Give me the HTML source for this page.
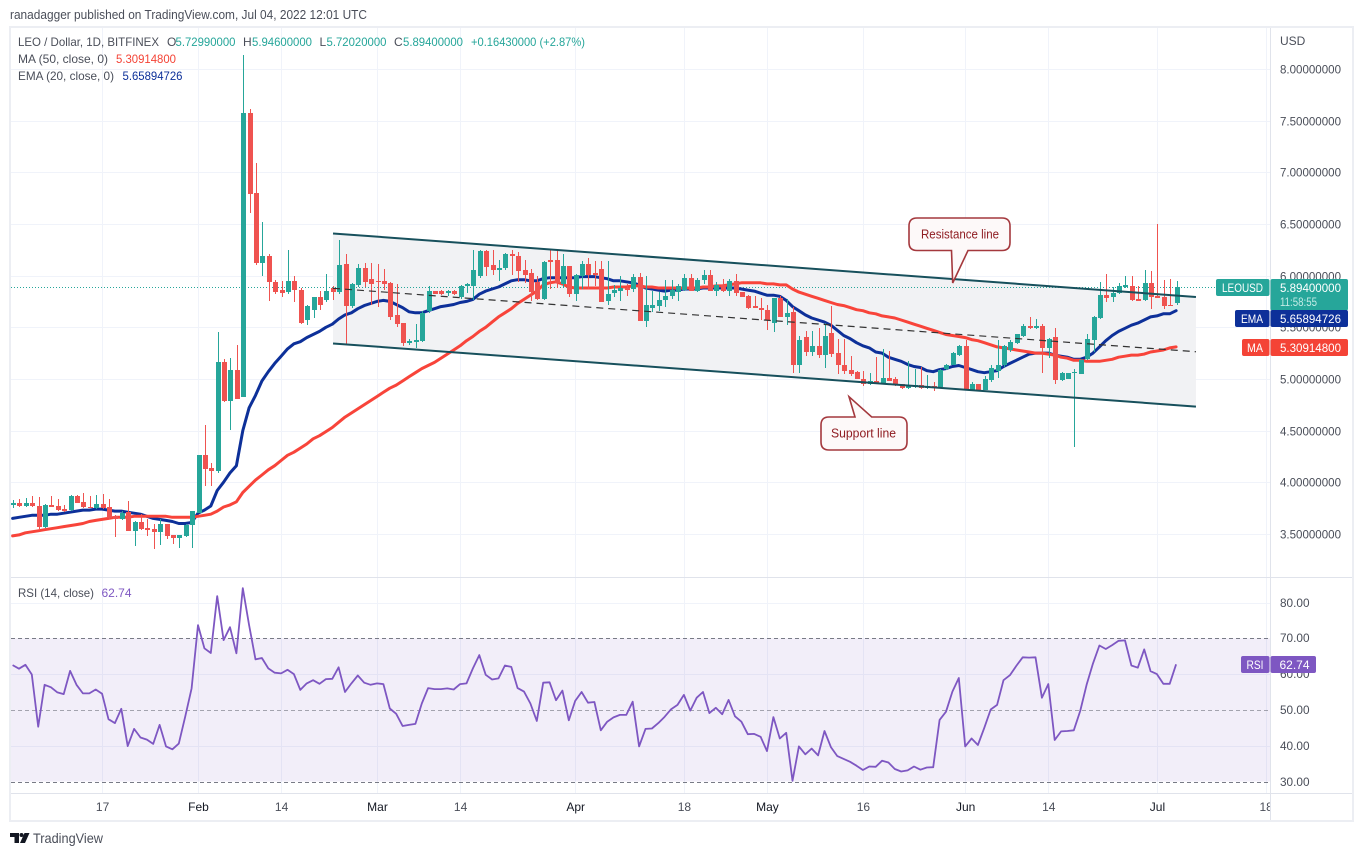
<!DOCTYPE html>
<html lang="en">
<head>
<meta charset="utf-8">
<title>LEO / Dollar chart</title>
<style>
html,body{margin:0;padding:0;background:#fff;width:1362px;height:856px;overflow:hidden}
svg{display:block}
text{font-family:"Liberation Sans",sans-serif;font-size:12px;fill:#4a4e59}
</style>
</head>
<body>
<svg id="chart" xmlns="http://www.w3.org/2000/svg" width="1362" height="856" viewBox="0 0 1362 856">
  <defs>
    <clipPath id="time-clip"><rect x="11" y="794" width="1259" height="26"/></clipPath>
    <clipPath id="plot-clip"><rect x="11" y="28" width="1259" height="549"/></clipPath>
    <clipPath id="rsi-clip"><rect x="11" y="578" width="1259" height="215"/></clipPath>
  </defs>

  <text x="10" y="19" textLength="357" lengthAdjust="spacingAndGlyphs" style="font-size:13px">ranadagger published on TradingView.com, Jul 04, 2022 12:01 UTC</text>

  <rect x="10" y="27" width="1343" height="794" fill="#fff" stroke="#eceef3" stroke-width="2"/>

  <g id="grid"></g>
  <g id="rsi-pane" clip-path="url(#rsi-clip)"></g>
  <g id="channel-fill"></g>
  <line id="last-price-line" x1="11" x2="1270" stroke="#26a69a" stroke-width="1" stroke-dasharray="1 2"/>
  <g id="indicators" clip-path="url(#plot-clip)"></g>
  <g id="candles" clip-path="url(#plot-clip)" shape-rendering="crispEdges"></g>
  <g id="channel-lines"></g>

  <g>
    <path d="M917,218H1002Q1010,218 1010,226V242.5Q1010,250.5 1002,250.5H968L952.7,283L951.5,250.5H917Q909,250.5 909,242.5V226Q909,218 917,218Z" fill="#fdf9f9" stroke="#a4383d" stroke-width="1.6"/>
    <text x="921" y="238.5" textLength="78" lengthAdjust="spacingAndGlyphs" style="fill:#8f1d22;font-size:13px">Resistance line</text>
  </g>
  <g>
    <path d="M829,417H855L849,396.7L871.7,417H899Q907,417 907,425V442Q907,450 899,450H829Q821,450 821,442V425Q821,417 829,417Z" fill="#fdf9f9" stroke="#a4383d" stroke-width="1.6"/>
    <text x="831" y="437.5" textLength="65" lengthAdjust="spacingAndGlyphs" style="fill:#8f1d22;font-size:13px">Support line</text>
  </g>

  <g shape-rendering="crispEdges">
    <rect x="11" y="577" width="1341" height="1" fill="#e0e3eb"/>
    <rect x="11" y="793" width="1341" height="1" fill="#e0e3eb"/>
    <rect x="1270" y="28" width="1" height="792" fill="#e0e3eb"/>
  </g>

  <g id="price-axis"></g>
  <g id="rsi-axis"></g>
  <g id="time-axis" clip-path="url(#time-clip)"></g>
  <text x="1280" y="45">USD</text>

  <g>
    <text x="18" y="46" textLength="141" lengthAdjust="spacingAndGlyphs">LEO / Dollar, 1D, BITFINEX</text>
    <text x="167" y="46">O</text>
    <text x="175.5" y="46" textLength="60" lengthAdjust="spacingAndGlyphs" style="fill:#26a69a">5.72990000</text>
    <text x="243" y="46">H</text>
    <text x="252" y="46" textLength="60" lengthAdjust="spacingAndGlyphs" style="fill:#26a69a">5.94600000</text>
    <text x="319.5" y="46">L</text>
    <text x="326.5" y="46" textLength="60" lengthAdjust="spacingAndGlyphs" style="fill:#26a69a">5.72020000</text>
    <text x="394" y="46">C</text>
    <text x="403" y="46" textLength="60" lengthAdjust="spacingAndGlyphs" style="fill:#26a69a">5.89400000</text>
    <text x="471" y="46" textLength="114" lengthAdjust="spacingAndGlyphs" style="fill:#26a69a">+0.16430000 (+2.87%)</text>
    <text x="18" y="63" textLength="90" lengthAdjust="spacingAndGlyphs">MA (50, close, 0)</text>
    <text x="116" y="63" textLength="60" lengthAdjust="spacingAndGlyphs" style="fill:#f44336">5.30914800</text>
    <text x="18" y="80" textLength="96" lengthAdjust="spacingAndGlyphs">EMA (20, close, 0)</text>
    <text x="122.5" y="80" textLength="60" lengthAdjust="spacingAndGlyphs" style="fill:#0d3099">5.65894726</text>
    <text x="18" y="597" textLength="76" lengthAdjust="spacingAndGlyphs">RSI (14, close)</text>
    <text x="101.5" y="597" textLength="30" lengthAdjust="spacingAndGlyphs" style="fill:#7e57c2">62.74</text>
  </g>

  <g>
    <rect x="1216" y="279" width="53.5" height="17" rx="2" fill="#26a69a"/>
    <text x="1222" y="292" textLength="41" lengthAdjust="spacingAndGlyphs" style="fill:#fff">LEOUSD</text>
    <rect x="1270.5" y="279" width="77.5" height="31.5" rx="2" fill="#26a69a"/>
    <text x="1280" y="292" textLength="61" lengthAdjust="spacingAndGlyphs" style="fill:#fff">5.89400000</text>
    <text x="1280" y="306" textLength="37" lengthAdjust="spacingAndGlyphs" style="fill:#c4ebe6">11:58:55</text>

    <rect x="1235" y="310" width="34.5" height="17" rx="2" fill="#0d3099"/>
    <text x="1241" y="323" textLength="22" lengthAdjust="spacingAndGlyphs" style="fill:#fff">EMA</text>
    <rect x="1270.5" y="310" width="77.5" height="17" rx="2" fill="#0d3099"/>
    <text x="1280" y="323" textLength="61" lengthAdjust="spacingAndGlyphs" style="fill:#fff">5.65894726</text>

    <rect x="1242" y="339" width="27.5" height="17" rx="2" fill="#f44336"/>
    <text x="1247" y="352" textLength="16" lengthAdjust="spacingAndGlyphs" style="fill:#fff">MA</text>
    <rect x="1270.5" y="339" width="77.5" height="17" rx="2" fill="#f44336"/>
    <text x="1280" y="352" textLength="61" lengthAdjust="spacingAndGlyphs" style="fill:#fff">5.30914800</text>

    <rect x="1241" y="656" width="28.5" height="17" rx="2" fill="#7e57c2"/>
    <text x="1246.5" y="669" textLength="17" lengthAdjust="spacingAndGlyphs" style="fill:#fff">RSI</text>
    <rect x="1270.5" y="656" width="45.5" height="17" rx="2" fill="#7e57c2"/>
    <text x="1279.5" y="669" textLength="30" lengthAdjust="spacingAndGlyphs" style="fill:#fff">62.74</text>
  </g>

  <g>
    <path d="M10,833H19V843H14.5V837H10Z" fill="#131722"/>
    <circle cx="21.5" cy="835" r="2" fill="#131722"/>
    <path d="M24.5,833H29.5L25,843H20Z" fill="#131722"/>
    <text x="33" y="843" textLength="70" lengthAdjust="spacingAndGlyphs" style="font-size:14px">TradingView</text>
  </g>
</svg>

<script>
// Trading days are measured from 1 Feb; first bar is 3 Jan (-29), last is 4 Jul (153).
const firstDay = -29;

const opens = [
3.78,3.80,3.77,3.80,3.77,3.57,3.78,3.77,3.74,3.73,
3.87,3.81,3.76,3.75,3.79,3.76,3.67,3.64,3.71,3.53,
3.61,3.56,3.55,3.52,3.60,3.49,3.46,3.48,3.59,3.70,
4.26,4.14,4.11,5.16,4.79,5.09,4.82,7.57,6.80,6.12,
6.19,5.94,5.86,5.84,5.95,5.86,5.57,5.67,5.79,5.76,
5.88,5.84,6.11,5.71,5.91,6.07,5.97,5.95,5.95,5.93,
5.62,5.54,5.35,5.36,5.37,5.66,5.85,5.85,5.83,5.85,
5.79,5.90,5.90,6.00,6.24,6.10,6.05,6.07,6.21,6.19,
6.05,6.03,5.94,5.77,6.15,6.15,5.92,6.09,5.82,6.00,
6.11,6.03,6.06,5.75,5.83,5.85,5.88,5.87,5.99,5.56,
5.69,5.71,5.76,5.80,5.84,5.86,5.98,5.85,5.96,6.01,
5.85,5.91,5.85,5.95,5.84,5.80,5.71,5.69,5.67,5.54,
5.78,5.60,5.65,5.13,5.41,5.26,5.32,5.23,5.44,5.25,
5.13,5.09,5.07,5.00,4.95,4.98,4.96,5.01,5.00,4.95,
4.91,4.92,4.94,4.91,4.93,4.92,5.10,5.13,5.23,5.32,
4.89,4.95,4.89,4.99,5.08,5.13,5.28,5.35,5.42,5.51,
5.49,5.51,5.30,5.41,4.99,5.00,5.06,5.05,5.19,5.38,
5.59,5.81,5.79,5.83,5.89,5.90,5.77,5.76,5.93,5.80,
5.79,5.72,5.73];

const highs = [
3.83,3.84,3.85,3.87,3.86,3.79,3.87,3.84,3.78,3.88,
3.88,3.90,3.87,3.88,3.89,3.84,3.68,3.72,3.82,3.62,
3.69,3.64,3.60,3.64,3.60,3.49,3.49,3.60,3.72,4.26,
4.55,4.19,5.45,5.19,5.20,5.33,8.14,7.61,7.09,6.52,
6.21,5.96,5.95,6.25,6.00,5.88,5.72,5.79,5.85,6.02,
5.90,6.34,6.21,5.93,6.11,6.12,6.12,6.11,6.06,5.94,
5.92,5.54,5.39,5.53,5.66,5.90,5.85,5.86,5.86,5.86,
5.91,5.93,6.25,6.25,6.25,6.25,6.15,6.22,6.25,6.23,
6.15,6.06,6.00,6.14,6.25,6.25,6.21,6.09,6.02,6.14,
6.17,6.14,6.14,6.14,5.91,6.00,5.92,6.02,6.03,6.00,
5.85,5.84,5.96,5.96,5.92,6.02,6.02,5.98,6.05,6.05,
5.94,5.97,5.97,6.02,5.84,5.81,5.80,5.78,5.72,5.78,
5.80,5.77,5.70,5.42,5.46,5.46,5.49,5.54,5.71,5.39,
5.39,5.22,5.08,5.08,5.06,5.21,5.29,5.27,5.02,4.95,
5.17,5.10,5.12,5.04,4.97,5.10,5.14,5.26,5.33,5.38,
4.97,4.95,5.03,5.13,5.38,5.33,5.38,5.43,5.53,5.60,
5.58,5.53,5.40,5.49,5.07,5.06,5.10,5.19,5.43,5.61,
5.94,6.02,5.89,5.93,6.00,6.00,5.90,6.05,6.04,6.50,
5.96,5.97,5.95];

const lows = [
3.75,3.76,3.76,3.76,3.55,3.56,3.76,3.72,3.71,3.72,
3.80,3.75,3.75,3.74,3.74,3.64,3.47,3.63,3.53,3.38,
3.54,3.48,3.35,3.39,3.45,3.40,3.36,3.47,3.36,3.70,
3.96,3.96,4.09,4.78,4.51,4.81,4.82,6.61,6.10,6.00,
5.75,5.82,5.79,5.82,5.74,5.53,5.52,5.59,5.67,5.74,
5.76,5.82,5.33,5.69,5.89,5.89,5.72,5.70,5.86,5.57,
5.50,5.32,5.33,5.30,5.36,5.64,5.82,5.81,5.80,5.81,
5.77,5.83,5.76,5.98,6.00,6.01,5.95,6.05,6.01,5.94,
5.93,5.75,5.76,5.76,5.87,5.88,5.88,5.79,5.75,5.87,
5.87,5.90,5.74,5.72,5.79,5.75,5.80,5.84,5.56,5.50,
5.65,5.66,5.70,5.77,5.75,5.85,5.85,5.84,5.92,5.85,
5.80,5.84,5.80,5.80,5.79,5.68,5.69,5.57,5.47,5.45,
5.60,5.52,5.06,5.06,5.22,5.22,5.20,5.11,5.21,5.05,
5.05,5.03,5.00,4.93,4.94,4.95,4.95,4.98,4.93,4.90,
4.90,4.91,4.90,4.90,4.88,4.91,5.09,5.13,5.22,4.89,
4.89,4.89,4.89,4.97,5.01,5.12,5.26,5.34,5.41,5.48,
5.48,5.06,5.20,4.95,4.98,5.00,4.34,5.05,5.18,5.26,
5.58,5.74,5.74,5.82,5.88,5.75,5.75,5.75,5.68,5.78,
5.68,5.71,5.72];

const closes = [
3.80,3.77,3.80,3.77,3.57,3.78,3.76,3.73,3.72,3.87,
3.80,3.76,3.75,3.79,3.75,3.65,3.64,3.70,3.53,3.61,
3.55,3.54,3.52,3.60,3.48,3.46,3.49,3.59,3.72,4.26,
4.13,4.11,5.16,4.79,5.09,4.81,7.57,6.79,6.12,6.19,
5.94,5.84,5.83,5.95,5.86,5.54,5.71,5.79,5.72,5.85,
5.84,6.10,5.71,5.92,6.07,5.94,5.92,5.94,5.92,5.60,
5.53,5.35,5.37,5.38,5.64,5.85,5.82,5.82,5.85,5.82,
5.90,5.92,6.05,6.24,6.08,6.05,6.07,6.21,6.19,6.04,
6.01,5.84,5.77,6.13,6.13,5.93,6.09,5.82,6.01,6.11,
6.01,6.01,5.74,5.82,5.86,5.88,5.86,5.99,5.56,5.72,
5.72,5.76,5.80,5.86,5.90,5.98,5.85,5.96,6.01,5.85,
5.91,5.85,5.95,5.83,5.79,5.69,5.69,5.67,5.57,5.78,
5.60,5.64,5.13,5.38,5.26,5.32,5.23,5.42,5.24,5.13,
5.08,5.05,5.00,4.95,4.98,4.96,5.01,4.98,4.94,4.91,
4.93,4.94,4.91,4.93,4.92,5.09,5.13,5.25,5.32,4.89,
4.95,4.89,5.00,5.11,5.13,5.32,5.36,5.43,5.51,5.49,
5.51,5.30,5.39,4.99,5.06,5.06,5.07,5.18,5.39,5.60,
5.81,5.78,5.83,5.90,5.91,5.76,5.75,5.93,5.79,5.78,
5.71,5.71,5.89];

const emaValues = [
3.65,3.66,3.67,3.68,3.68,3.68,3.69,3.69,3.70,3.71,
3.72,3.73,3.73,3.74,3.74,3.73,3.72,3.72,3.71,3.70,
3.69,3.67,3.65,3.64,3.63,3.62,3.60,3.60,3.61,3.70,
3.73,3.77,3.92,4.00,4.09,4.16,4.50,4.72,4.84,4.98,
5.07,5.15,5.22,5.29,5.34,5.36,5.40,5.43,5.46,5.50,
5.53,5.58,5.62,5.64,5.68,5.71,5.73,5.75,5.76,5.75,
5.72,5.69,5.65,5.64,5.64,5.66,5.68,5.70,5.71,5.72,
5.74,5.75,5.77,5.82,5.85,5.87,5.89,5.92,5.95,5.96,
5.96,5.95,5.95,5.97,5.98,5.98,5.98,5.98,5.98,5.99,
5.99,5.99,5.98,5.97,5.95,5.95,5.94,5.93,5.91,5.88,
5.87,5.86,5.85,5.86,5.86,5.87,5.87,5.87,5.88,5.88,
5.88,5.88,5.88,5.88,5.87,5.86,5.85,5.83,5.81,5.81,
5.80,5.76,5.70,5.66,5.62,5.59,5.57,5.55,5.52,5.47,
5.42,5.39,5.35,5.32,5.30,5.26,5.25,5.21,5.19,5.17,
5.14,5.12,5.11,5.08,5.07,5.09,5.10,5.12,5.13,5.11,
5.09,5.07,5.06,5.07,5.08,5.12,5.15,5.18,5.21,5.24,
5.25,5.25,5.25,5.23,5.22,5.21,5.19,5.19,5.21,5.25,
5.31,5.37,5.42,5.46,5.49,5.52,5.54,5.57,5.60,5.61,
5.63,5.63,5.66];

const maValues = [
3.48,3.49,3.51,3.52,3.53,3.54,3.55,3.56,3.57,3.58,
3.59,3.60,3.62,3.63,3.64,3.65,3.66,3.66,3.66,3.67,
3.67,3.67,3.67,3.67,3.67,3.66,3.66,3.66,3.66,3.67,
3.68,3.69,3.72,3.76,3.78,3.81,3.90,3.96,4.02,4.07,
4.12,4.16,4.21,4.26,4.29,4.33,4.37,4.42,4.45,4.49,
4.53,4.58,4.63,4.67,4.71,4.75,4.79,4.83,4.87,4.91,
4.94,4.98,5.02,5.06,5.10,5.13,5.16,5.20,5.24,5.28,
5.32,5.37,5.41,5.46,5.50,5.55,5.60,5.64,5.68,5.73,
5.77,5.81,5.85,5.91,5.93,5.94,5.92,5.89,5.88,5.88,
5.88,5.88,5.88,5.88,5.89,5.89,5.89,5.90,5.90,5.89,
5.89,5.88,5.88,5.88,5.88,5.88,5.88,5.88,5.89,5.89,
5.90,5.90,5.91,5.92,5.93,5.93,5.93,5.93,5.92,5.92,
5.91,5.91,5.87,5.84,5.82,5.80,5.78,5.76,5.74,5.72,
5.71,5.69,5.67,5.66,5.64,5.63,5.61,5.60,5.59,5.57,
5.55,5.53,5.51,5.49,5.47,5.45,5.43,5.42,5.41,5.40,
5.38,5.37,5.35,5.33,5.31,5.30,5.29,5.28,5.27,5.26,
5.25,5.25,5.24,5.23,5.21,5.20,5.18,5.18,5.17,5.17,
5.17,5.18,5.19,5.21,5.22,5.23,5.23,5.24,5.26,5.27,
5.28,5.30,5.31];

const rsiValues = [
62.5,61.5,62.6,59.9,45.3,57,56.3,54.9,54.4,60.9,
57,54.6,54.6,55.7,54.5,47.4,46.3,50.3,39.9,44.7,
42.3,41.7,40.5,45.8,39.8,39,40.6,48.1,56,73.7,
67.2,65.9,81.8,69.5,73.1,65.8,84,73.7,64.1,64.5,
61.6,60.4,60.2,61.2,60,55.6,57.4,58.3,57.3,58.6,
58.7,61.9,55,57.4,59.6,57.6,57,57.4,57.2,50.4,
48.9,45.5,45.8,46.1,51.8,56.1,55.8,55.8,56,55.7,
57.2,57.4,61.6,65.3,59.8,58.5,58.8,62.4,62,56.1,
55.1,51.8,46.9,57.6,57.7,52.7,55.4,47.1,52.5,55,
52,52.2,44.3,46.7,47.9,48.6,48.6,52.3,39.8,44.7,
44.8,46.3,48.1,50.2,51.4,54.2,49.8,53.4,55,49.1,
50.6,48.8,52.8,48.2,46.7,43.2,43.3,42.5,38.5,48,
42,43.6,30.2,39.8,37.6,39.2,37.3,44.1,39.6,37.1,
36.3,35.5,34.4,33.2,34.2,34.1,35.8,35.3,33.5,32.8,
33.1,34.2,33.3,33.9,34,47.2,49.5,55.1,58.9,39.8,
42,40.2,45,50.1,51.4,58.3,59.7,62.3,64.7,64.6,
64.7,53.4,57.2,41.6,44,44.1,44.3,49.7,57,63,
68,67,68.1,69.3,69.4,62.4,61.8,66.9,60.8,60,
57.3,57.3,62.74];

const priceTicks = [8, 7.5, 7, 6.5, 6, 5.5, 5, 4.5, 4, 3.5];
const rsiGridTicks = [80, 60, 40];
const rsiGuideLevels = [70, 50, 30];
const rsiAxisTicks = [80, 70, 60, 50, 40, 30];
const timeTickDays = [-15, 0, 13, 28, 41, 59, 76, 89, 104, 120, 133, 150, 167];
const timeTickLabels = ['17', 'Feb', '14', 'Mar', '14', 'Apr', '18', 'May', '16', 'Jun', '14', 'Jul', '18'];
const channelDays = [21.12, 156.1];
const channelUpper = [6.408, 5.793];
const channelMiddle = [5.877, 5.263];
const channelLower = [5.343, 4.732];
const lastPrice = 5.894;

const NS = 'http://www.w3.org/2000/svg';
function xOf(day) { return 198 + 6.393 * day; }
function yOf(price) { return 69 + (8 - price) * 103.3; }
function yRsi(v) { return 638.3 + (70 - v) * 3.58; }
function make(tag, parent) {
  const el = document.createElementNS(NS, tag);
  parent.appendChild(el);
  return el;
}
function linePath(values, yFn) {
  return values.map(function (v, i) {
    return (i ? 'L' : 'M') + xOf(firstDay + i).toFixed(1) + ',' + yFn(v).toFixed(1);
  }).join('');
}

// grid
const grid = document.getElementById('grid');
priceTicks.forEach(function (p) {
  const el = make('rect', grid);
  
  
  el.setAttribute('x', 11);
  el.setAttribute('y', Math.round(yOf(p)));
  el.setAttribute('width', 1259);
  el.setAttribute('height', 1);
  el.setAttribute('fill', '#f0f3fa');
});
rsiGridTicks.forEach(function (v) {
  const el = make('rect', grid);
  
  
  el.setAttribute('x', 11);
  el.setAttribute('y', Math.round(yRsi(v)));
  el.setAttribute('width', 1259);
  el.setAttribute('height', 1);
  el.setAttribute('fill', '#f0f3fa');
});
timeTickDays.forEach(function (d) {
  const el = make('rect', grid);
  
  
  el.setAttribute('x', Math.round(xOf(d)));
  el.setAttribute('y', 28);
  el.setAttribute('width', 1);
  el.setAttribute('height', 765);
  el.setAttribute('fill', '#f0f3fa');
});

// RSI pane
const rsiPane = document.getElementById('rsi-pane');
const band = make('rect', rsiPane);


band.setAttribute('x', 11);
band.setAttribute('y', yRsi(70));
band.setAttribute('width', 1259);
band.setAttribute('height', yRsi(30) - yRsi(70));
band.setAttribute('fill', '#7e57c2');
band.setAttribute('fill-opacity', '0.1');
rsiGuideLevels.forEach(function (v) {
  const el = make('line', rsiPane);
  
  
  el.setAttribute('x1', 11);
  el.setAttribute('x2', 1270);
  el.setAttribute('y1', Math.round(yRsi(v)) + 0.5);
  el.setAttribute('y2', Math.round(yRsi(v)) + 0.5);
  el.setAttribute('stroke', '#787b86');
  el.setAttribute('stroke-opacity', v === 50 ? '0.65' : '1');
  el.setAttribute('stroke-dasharray', '4 3');
});
const rsiLine = make('path', rsiPane);


rsiLine.setAttribute('d', linePath(rsiValues, yRsi));
rsiLine.setAttribute('fill', 'none');
rsiLine.setAttribute('stroke', '#7e57c2');
rsiLine.setAttribute('stroke-width', '1.8');
rsiLine.setAttribute('stroke-linejoin', 'round');

// channel
const channelFill = document.getElementById('channel-fill');
const cf = make('polygon', channelFill);


cf.setAttribute('points', [
  xOf(channelDays[0]) + ',' + yOf(channelUpper[0]),
  xOf(channelDays[1]) + ',' + yOf(channelUpper[1]),
  xOf(channelDays[1]) + ',' + yOf(channelLower[1]),
  xOf(channelDays[0]) + ',' + yOf(channelLower[0])
].join(' '));
cf.setAttribute('fill', '#f1f2f4');

const lastLine = document.getElementById('last-price-line');
lastLine.setAttribute('y1', Math.round(yOf(lastPrice)) + 0.5);
lastLine.setAttribute('y2', Math.round(yOf(lastPrice)) + 0.5);

// moving averages
const indicators = document.getElementById('indicators');
const emaLine = make('path', indicators);


emaLine.setAttribute('d', linePath(emaValues, yOf));
emaLine.setAttribute('fill', 'none');
emaLine.setAttribute('stroke', '#0d3099');
emaLine.setAttribute('stroke-width', '3');
emaLine.setAttribute('stroke-linejoin', 'round');
emaLine.setAttribute('stroke-linecap', 'round');
const maLine = make('path', indicators);


maLine.setAttribute('d', linePath(maValues, yOf));
maLine.setAttribute('fill', 'none');
maLine.setAttribute('stroke', '#f8443a');
maLine.setAttribute('stroke-width', '3');
maLine.setAttribute('stroke-linejoin', 'round');
maLine.setAttribute('stroke-linecap', 'round');

// candles
const candles = document.getElementById('candles');
opens.forEach(function (o, i) {
  const h = highs[i], l = lows[i], c = closes[i];
  const color = c >= o ? '#26a69a' : '#ef5350';
  const left = Math.floor(xOf(firstDay + i)) - 1;
  const wick = make('rect', candles);
  
  
  wick.setAttribute('x', left + 2);
  wick.setAttribute('y', Math.round(yOf(h)));
  wick.setAttribute('width', 1);
  wick.setAttribute('height', Math.max(1, Math.round(yOf(l)) - Math.round(yOf(h))));
  wick.setAttribute('fill', color);
  const top = Math.round(yOf(Math.max(o, c)));
  const bottom = Math.round(yOf(Math.min(o, c)));
  const body = make('rect', candles);
  
  
  body.setAttribute('x', left);
  body.setAttribute('y', top);
  body.setAttribute('width', 5);
  body.setAttribute('height', Math.max(1, bottom - top));
  body.setAttribute('fill', color);
});

// channel lines
const channelLines = document.getElementById('channel-lines');
const upperLine = make('line', channelLines);


upperLine.setAttribute('x1', xOf(channelDays[0]));
upperLine.setAttribute('x2', xOf(channelDays[1]));
upperLine.setAttribute('y1', yOf(channelUpper[0]));
upperLine.setAttribute('y2', yOf(channelUpper[1]));
upperLine.setAttribute('stroke', '#17505c');
upperLine.setAttribute('stroke-width', '2');
const lowerLine = make('line', channelLines);


lowerLine.setAttribute('x1', xOf(channelDays[0]));
lowerLine.setAttribute('x2', xOf(channelDays[1]));
lowerLine.setAttribute('y1', yOf(channelLower[0]));
lowerLine.setAttribute('y2', yOf(channelLower[1]));
lowerLine.setAttribute('stroke', '#17505c');
lowerLine.setAttribute('stroke-width', '2');
const midLine = make('line', channelLines);


midLine.setAttribute('x1', xOf(channelDays[0]));
midLine.setAttribute('x2', xOf(channelDays[1]));
midLine.setAttribute('y1', yOf(channelMiddle[0]));
midLine.setAttribute('y2', yOf(channelMiddle[1]));
midLine.setAttribute('stroke', '#333');
midLine.setAttribute('stroke-width', '1.2');
midLine.setAttribute('stroke-dasharray', '7 5');

// axes
const priceAxis = document.getElementById('price-axis');
priceTicks.forEach(function (p) {
  const el = make('text', priceAxis);
  
  
  el.setAttribute('x', 1280);
  el.setAttribute('y', Math.round(yOf(p)) + 4.5);
  el.setAttribute('textLength', 61);
  el.setAttribute('lengthAdjust', 'spacingAndGlyphs');
  el.textContent = p.toFixed(8);
});
const rsiAxis = document.getElementById('rsi-axis');
rsiAxisTicks.forEach(function (v) {
  const el = make('text', rsiAxis);
  
  
  el.setAttribute('x', 1280);
  el.setAttribute('y', Math.round(yRsi(v)) + 4);
  el.setAttribute('textLength', 29.5);
  el.setAttribute('lengthAdjust', 'spacingAndGlyphs');
  el.textContent = v.toFixed(2);
});
const timeAxis = document.getElementById('time-axis');
timeTickDays.forEach(function (d, i) {
  const el = make('text', timeAxis);
  
  
  el.setAttribute('x', xOf(d) + 0.5);
  el.setAttribute('y', 811);
  el.setAttribute('text-anchor', 'middle');
  el.style.fill = /^[A-Z]/.test(timeTickLabels[i]) ? '#131722' : '#4a4e59';
  el.textContent = timeTickLabels[i];
});
</script>
</body>
</html>
